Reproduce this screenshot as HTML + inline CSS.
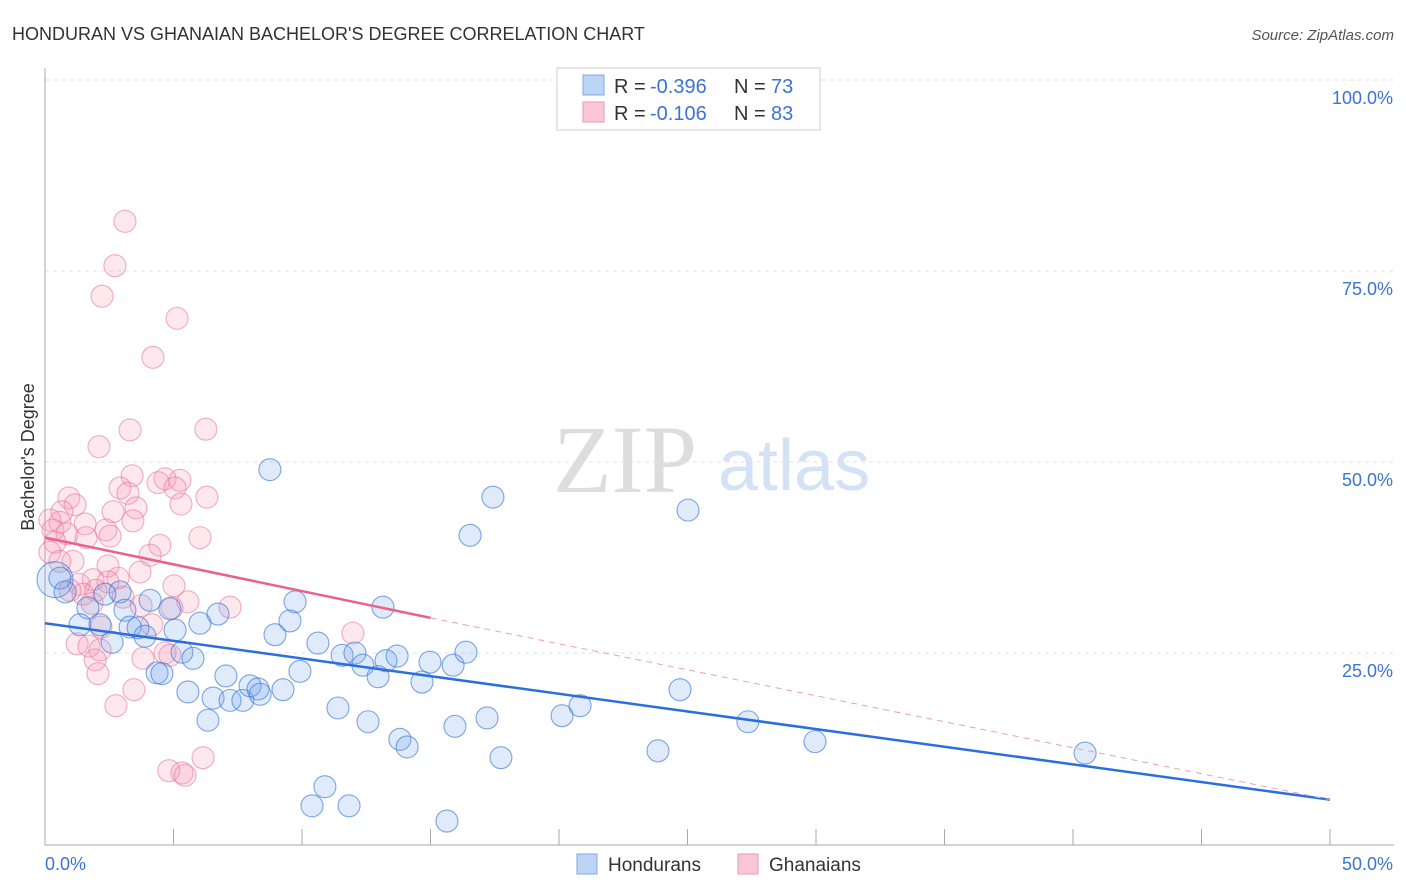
<!DOCTYPE html>
<html><head><meta charset="utf-8">
<style>
body{margin:0;background:#fff;font-family:"Liberation Sans",sans-serif;}
svg{display:block}
</style></head><body>
<svg id="chart" width="1406" height="892">
<text x="12" y="40" font-size="18" fill="#333">HONDURAN VS GHANAIAN BACHELOR'S DEGREE CORRELATION CHART</text>
<text x="1394" y="40" font-size="15" fill="#555" font-style="italic" text-anchor="end">Source: ZipAtlas.com</text>
<g>
<text x="553" y="492" font-size="96" font-family="Liberation Serif,serif" fill="#ddd">ZIP</text>
<text x="718" y="490" font-size="72" fill="#d3e2f4">atlas</text>
</g>
<g id="grid"></g>
<g id="axes"></g>
<g id="points"></g>
<g id="trends"></g>
<text transform="translate(34,457) rotate(-90)" font-size="18" fill="#333" text-anchor="middle">Bachelor's Degree</text>
<g>
<rect x="557" y="68" width="263" height="62" fill="#fff" stroke="#ccc"/>
<rect x="583" y="75" width="21" height="20" fill="#bcd4f5" stroke="#7ea8e6"/>
<rect x="583" y="102" width="21" height="20" fill="#f9c7d6" stroke="#ec9ab3"/>
<text x="614" y="93" font-size="20" fill="#333">R =</text>
<text x="650" y="93" font-size="20" fill="#3b73d6">-0.396</text>
<text x="734" y="93" font-size="20" fill="#333">N =</text>
<text x="771" y="93" font-size="20" fill="#3b73d6">73</text>
<text x="614" y="120" font-size="20" fill="#333">R =</text>
<text x="650" y="120" font-size="20" fill="#3b73d6">-0.106</text>
<text x="734" y="120" font-size="20" fill="#333">N =</text>
<text x="771" y="120" font-size="20" fill="#3b73d6">83</text>
</g>
<g>
<rect x="577" y="854" width="20" height="20" fill="#bcd4f5" stroke="#7ea8e6"/>
<text x="608" y="871" font-size="19" fill="#333">Hondurans</text>
<rect x="738" y="854" width="20" height="20" fill="#f9c7d6" stroke="#ec9ab3"/>
<text x="769" y="871" font-size="19" fill="#333">Ghanaians</text>
</g>
</svg>
<script>
const blueX=[0.39,0.58,0.78,1.67,1.36,2.14,2.33,2.92,3.11,2.61,3.31,3.62,3.89,4.09,4.36,4.55,4.86,5.06,5.33,5.56,5.76,6.03,6.34,6.54,6.73,7.04,7.20,7.70,7.98,8.29,8.37,8.75,8.95,9.26,9.53,9.73,9.92,10.39,10.62,10.89,11.40,11.56,11.83,12.06,12.37,12.57,12.96,13.15,13.27,13.70,13.81,14.09,14.67,14.98,15.64,15.88,15.95,16.38,16.54,17.20,17.43,17.74,20.12,20.82,23.85,24.71,25.02,27.35,29.96,40.47];
const blueY=[34.6,34.8,33.0,30.9,28.7,28.7,32.7,33.0,30.6,26.4,28.4,28.3,27.2,31.9,22.4,22.3,30.8,28.0,25.1,19.9,24.3,28.9,16.2,19.1,30.1,22.0,18.8,18.8,20.7,20.3,19.6,49.0,27.4,20.2,29.2,31.7,22.6,5.0,26.3,7.5,17.8,24.7,5.0,25.0,23.4,16.0,21.9,31.0,24.0,24.6,13.7,12.7,21.2,23.8,3.0,23.4,15.4,25.1,40.4,16.5,45.4,11.3,16.8,18.1,12.2,20.2,43.7,16.0,13.4,11.9];
const pinkX=[3.11,2.72,2.22,5.14,4.20,6.26,3.31,2.10,3.39,4.67,5.25,4.40,5.06,2.92,3.23,0.93,6.30,5.29,1.17,0.66,2.65,3.54,3.42,1.56,0.58,0.19,0.31,2.37,0.86,6.03,2.53,1.60,4.47,0.39,0.19,4.09,1.09,3.70,2.45,0.58,2.84,1.87,5.02,2.45,1.32,0.97,1.98,1.48,3.04,5.56,3.74,7.20,4.94,1.83,4.16,2.18,11.98,1.25,1.71,4.67,4.86,2.14,1.95,3.81,2.06,3.46,2.76,4.82,5.33,5.45,6.15];
const pinkY=[81.5,75.7,71.7,68.8,63.7,54.3,54.2,52.0,48.2,47.8,47.6,47.3,46.6,46.6,45.9,45.3,45.4,44.5,44.4,43.5,43.5,44.0,42.3,41.9,42.1,42.4,41.1,41.1,40.6,40.1,40.3,40.1,39.1,39.5,38.2,37.8,37.0,35.6,36.4,37.0,34.8,34.6,33.8,34.3,34.0,33.2,33.2,32.7,32.3,31.7,31.2,31.0,30.9,31.5,28.7,28.4,27.6,26.2,25.9,25.0,24.7,25.4,24.1,24.3,22.3,20.2,18.1,9.6,9.3,9.0,11.3];
const blueTrendX=[0,50], blueTrendY=[28.9,5.8];
const pinkTrendX=[0,15], pinkTrendY=[40.1,29.6];
const pinkDashX=[15,50], pinkDashY=[29.6,5.8];
const yTicks=[25,50,75,100];
const yTickLabels=["25.0%","50.0%","75.0%","100.0%"];
const xTickCount=11;

const NS="http://www.w3.org/2000/svg";
const sx=v=>45+v*25.7, sy=v=>844-v*7.64;
function mk(tag,attrs,parent){const e=document.createElementNS(NS,tag);for(const k in attrs)e.setAttribute(k,attrs[k]);document.getElementById(parent).appendChild(e);return e;}
yTicks.forEach((t,i)=>{
  const l=mk('line',{x1:45,x2:1394,y1:sy(t),y2:sy(t),stroke:'#e2e2e2','stroke-dasharray':'4,4'},'grid');
  
  
  const tx=mk('text',{x:1393,y:sy(t)+24,'font-size':18,fill:'#3b73d6','text-anchor':'end'},'grid');
  tx.textContent=yTickLabels[i];
  
  
});
const ya=mk('line',{x1:45,x2:45,y1:68,y2:845,stroke:'#aaa'},'axes');


const xa=mk('line',{x1:45,x2:1394,y1:845,y2:845,stroke:'#aaa'},'axes');


for(let i=0;i<xTickCount;i++){
  const x=sx(i*5);
  const t=mk('line',{x1:x,x2:x,y1:829,y2:845,stroke:'#aaa'},'axes');
  
  
}
const xl0=mk('text',{x:45,y:870,'font-size':18,fill:'#3b73d6'},'axes');xl0.textContent='0.0%';


const xl1=mk('text',{x:1393,y:870,'font-size':18,fill:'#3b73d6','text-anchor':'end'},'axes');xl1.textContent='50.0%';


pinkX.forEach((v,i)=>{
  const c=mk('circle',{cx:sx(v),cy:sy(pinkY[i]),r:11,fill:'rgba(244,150,178,0.22)',stroke:'rgba(232,120,155,0.6)','stroke-width':1.1},'points');
  
  
});
blueX.forEach((v,i)=>{
  const c=mk('circle',{cx:sx(v),cy:sy(blueY[i]),r:i===0?18:11,fill:'rgba(110,160,230,0.22)',stroke:'rgba(60,120,215,0.65)','stroke-width':1.1},'points');
  
  
});
const bt=mk('line',{x1:sx(blueTrendX[0]),y1:sy(blueTrendY[0]),x2:sx(blueTrendX[1]),y2:sy(blueTrendY[1]),stroke:'#2a6fdb','stroke-width':2.5},'trends');


const pt=mk('line',{x1:sx(pinkTrendX[0]),y1:sy(pinkTrendY[0]),x2:sx(pinkTrendX[1]),y2:sy(pinkTrendY[1]),stroke:'#e8628e','stroke-width':2.5},'trends');


const pd=mk('line',{x1:sx(pinkDashX[0]),y1:sy(pinkDashY[0]),x2:sx(pinkDashX[1]),y2:sy(pinkDashY[1]),stroke:'#e8a0b8','stroke-width':1,'stroke-dasharray':'6,5'},'trends');


</script>
</body></html>
